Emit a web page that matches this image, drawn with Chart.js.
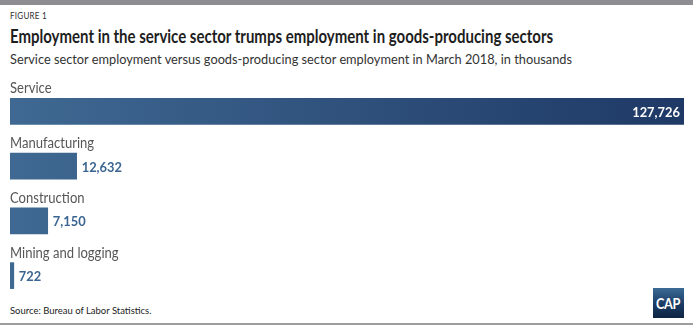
<!DOCTYPE html>
<html>
<head>
<meta charset="utf-8">
<script src="https://cdn.jsdelivr.net/npm/chart.js@4.4.1/dist/chart.umd.min.js"></script>
<style>
  body { margin: 0; background: #fff; font-family: Lato, "Open Sans", sans-serif; }
  #page { position: relative; width: 693px; height: 326px; overflow: hidden; background: #fff; }
  .txt { position: absolute; left: 10px; white-space: nowrap; transform-origin: 0 0; }
  #topbar { position: absolute; left: 0; top: 0; width: 693px; height: 5px; background: #8d8d92; }
  #bottomline { position: absolute; left: 0; top: 323px; width: 693px; height: 2px; background: #9d9da0; }
  #kicker { top: 9px; font-size: 10px; color: #333; letter-spacing: 0.3px; }
  #title { top: 25px; font-size: 18px; font-weight: bold; color: #1e1e1e; }
  #subtitle { top: 50px; font-size: 14px; color: #333; }
  #source { top: 304px; font-size: 10px; color: #222; }
  #chartBox { position: absolute; left: 0; top: 72px; width: 693px; height: 231px; }
  #logo { position: absolute; left: 653px; top: 288px; width: 31px; height: 30px;
          background: linear-gradient(#3b6b95, #1a3a63 55%, #0e2442);
          color: #fff; font-weight: bold; font-size: 15px; line-height: 30px; text-align: center;
          letter-spacing: -0.5px; }
</style>
</head>
<body>
<div id="page">
  <div id="topbar"></div>
  <div class="txt" id="kicker" data-w="37">FIGURE 1</div>
  <div class="txt" id="title" data-w="543">Employment in the service sector trumps employment in goods-producing sectors</div>
  <div class="txt" id="subtitle" data-w="562">Service sector employment versus goods-producing sector employment in March 2018, in thousands</div>
  <div id="chartBox"><canvas id="chart"></canvas></div>
  <div class="txt" id="source" data-w="141">Source: Bureau of Labor Statistics.</div>
  <div id="logo"><span style="display:inline-block;transform:scaleX(0.85)">CAP</span></div>
  <div id="bottomline"></div>
</div>
<script>
// data (thousands of jobs, March 2018)
const sectors = ['Service', 'Manufacturing', 'Construction', 'Mining and logging'];
const employment = [127726, 12632, 7150, 722];
const valueLabels = ['127,726', '12,632', '7,150', '722'];

// squeeze html text to the width it has in the figure
document.querySelectorAll('.txt[data-w]').forEach(el => {
  const w = el.scrollWidth;
  const target = +el.dataset.w;
  el.style.transform = 'scaleX(' + (target / w) + ')';
});

const labelPlugin = {
  id: 'barLabels',
  afterDatasetsDraw(chart) {
    const ctx = chart.ctx;
    const meta = chart.getDatasetMeta(0);
    ctx.save();
    meta.data.forEach((bar, i) => {
      const top = bar.y - bar.height / 2;
      // category name above the bar
      ctx.font = '14.5px Lato, "Open Sans", sans-serif';
      ctx.fillStyle = '#565656';
      ctx.textAlign = 'left';
      ctx.textBaseline = 'alphabetic';
      const nameW = ctx.measureText(sectors[i]).width;
      ctx.fillText(sectors[i], 10, top - 5, nameW * 0.9);

      // value
      ctx.font = 'bold 14px Lato, "Open Sans", sans-serif';
      ctx.textBaseline = 'middle';
      const valW = ctx.measureText(valueLabels[i]).width;
      if (bar.x - bar.base > 100) {
        ctx.fillStyle = '#fff';
        ctx.textAlign = 'right';
        ctx.fillText(valueLabels[i], bar.x - 4, bar.y + 1, valW * 0.92);
      } else {
        ctx.fillStyle = '#3b6591';
        ctx.textAlign = 'left';
        ctx.fillText(valueLabels[i], bar.x + 5, bar.y + 1, valW * 0.92);
      }
    });
    ctx.restore();
  }
};

new Chart(document.getElementById('chart'), {
  type: 'bar',
  data: {
    labels: sectors,
    datasets: [{
      data: employment,
      barThickness: 26,
      backgroundColor: (c) => {
        const area = c.chart.chartArea;
        if (!area) return '#3d6690';
        const g = c.chart.ctx.createLinearGradient(area.left, 0, area.right, 0);
        g.addColorStop(0, '#3f6992');
        g.addColorStop(1, '#1f3966');
        return g;
      },
      borderWidth: 0
    }]
  },
  options: {
    indexAxis: 'y',
    responsive: true,
    maintainAspectRatio: false,
    animation: false,
    layout: { padding: { left: 10, right: 9, top: 12, bottom: 0 } },
    plugins: { legend: { display: false }, tooltip: { enabled: false } },
    scales: {
      x: { display: false, min: 0, max: 127726 },
      y: { display: false }
    }
  },
  plugins: [labelPlugin]
});
</script>
</body>
</html>
